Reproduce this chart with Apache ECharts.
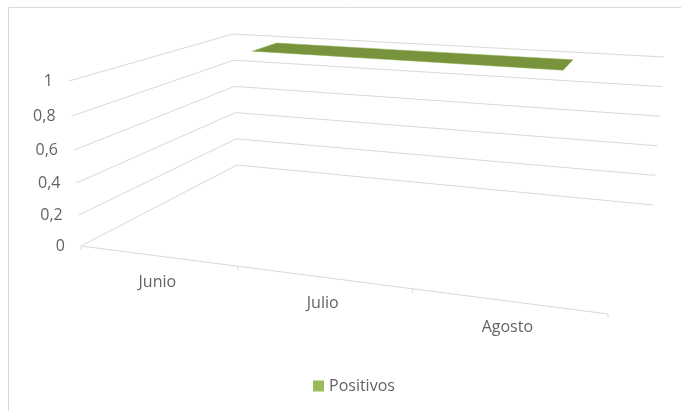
<!DOCTYPE html>
<html><head><meta charset="utf-8">
<style>html,body{margin:0;padding:0;background:#fff}#c{width:681px;height:411px}</style>
<script src="https://cdn.jsdelivr.net/npm/echarts@6/dist/echarts.min.js"></script>
</head><body><div id="c"></div>
<script>
var categories = ['Junio', 'Julio', 'Agosto'];
var positivos = [1, 1, 1];
var valueTicks = [0, 0.2, 0.4, 0.6, 0.8, 1];
var valueTickLabels = ['0', '0,2', '0,4', '0,6', '0,8', '1'];
var seriesName = 'Positivos';

// View of the 3-D box: screen corners of the floor and ceiling planes.
var floorQuad = [[81,246],[608,314],[653,205],[237,165]];
var ceilQuad  = [[69,81],[634,128],[664,57],[233,34]];
var ribbonDepth = [0.66, 0.85];
var G = {left: 100, top: 100, width: 300, height: 200};

function homography(q) {
  var sx=q[0][0]-q[1][0]+q[2][0]-q[3][0], sy=q[0][1]-q[1][1]+q[2][1]-q[3][1];
  var dx1=q[1][0]-q[2][0], dx2=q[3][0]-q[2][0], dy1=q[1][1]-q[2][1], dy2=q[3][1]-q[2][1];
  var det=dx1*dy2-dx2*dy1;
  var g=(sx*dy2-dx2*sy)/det, h=(dx1*sy-sx*dy1)/det;
  var a=q[1][0]-q[0][0]+g*q[1][0], b=q[3][0]-q[0][0]+h*q[3][0];
  var d=q[1][1]-q[0][1]+g*q[1][1], e=q[3][1]-q[0][1]+h*q[3][1];
  return function(u,t){ var w=g*u+h*t+1; return [(a*u+b*t+q[0][0])/w,(d*u+e*t+q[0][1])/w]; };
}
var hf=homography(floorQuad), hc=homography(ceilQuad);
// (px,py) is the pixel from the hidden cartesian axes; depth 0=front, 1=back
function project(p, depth){
  var u=(p[0]-G.left)/G.width, v=(G.top+G.height-p[1])/G.height;
  var r=1+0.08*(1-depth);            // vertical foreshortening, stronger at the front
  v=v/(v+(1-v)*r);
  var a=hf(u,depth), b=hc(u,depth);
  return [a[0]+(b[0]-a[0])*v, a[1]+(b[1]-a[1])*v];
}
var lineStyle={stroke:'#d9d9d9',lineWidth:1,fill:null};
var textColor='#636363', fontSpec='16px "Open Sans"';

var option={
  animation:false,
  backgroundColor:'#fff',
  grid:Object.assign({},G),
  xAxis:{type:'value',min:0,max:categories.length,show:false},
  yAxis:{type:'value',min:0,max:1,interval:0.2,show:false},
  legend:{data:[seriesName],left:308,top:373,itemWidth:11,itemHeight:11,itemGap:3,icon:'rect',
    textStyle:{color:textColor,fontFamily:'Open Sans',fontSize:16}},
  graphic:[
    {type:'line',shape:{x1:8.5,y1:7.5,x2:681,y2:7.5},style:{stroke:'#d9d9d9',lineWidth:1},silent:true},
    {type:'line',shape:{x1:8.5,y1:7.5,x2:8.5,y2:411},style:{stroke:'#d9d9d9',lineWidth:1},silent:true}
  ],
  series:[
    {type:'custom',name:'grid',coordinateSystem:'cartesian2d',silent:true,
     data:valueTicks.map(function(v,i){return [0,v,i];}),
     renderItem:function(params,api){
       var v=api.value(1), i=api.value(2), n=categories.length;
       var L=api.coord([0,v]), R=api.coord([n,v]);
       var a=project(L,0), b=project(L,1), c=project(R,1);
       var children=[
         {type:'polyline',shape:{points:[a,b,c]},style:lineStyle},
         {type:'text',style:{x:a[0]-16,y:a[1],text:valueTickLabels[i],textAlign:'right',textVerticalAlign:'middle',fill:textColor,font:fontSpec}}
       ];
       return {type:'group',children:children};
     }},
    {type:'custom',name:'floor',coordinateSystem:'cartesian2d',silent:true,
     data:categories.map(function(c,i){return [i,0,i];}).concat([[categories.length,0,-1]]),
     renderItem:function(params,api){
       var s=api.value(0), idx=api.value(2);
       var p=project(api.coord([s,0]),0);
       var ch=[{type:'line',shape:{x1:p[0],y1:p[1],x2:p[0],y2:p[1]+4},style:{stroke:'#d9d9d9',lineWidth:1}}];
       if(s<categories.length){
         var q=project(api.coord([s+1,0]),0);
         ch.push({type:'line',shape:{x1:p[0],y1:p[1],x2:q[0],y2:q[1]},style:{stroke:'#d9d9d9',lineWidth:1}});
         var m=project(api.coord([s+0.5,0]),0);
         ch.push({type:'text',style:{x:m[0],y:m[1]+26.5,text:categories[idx],textAlign:'center',textVerticalAlign:'middle',fill:textColor,font:fontSpec}});
       }
       return {type:'group',children:ch};
     }},
    {type:'custom',name:seriesName,coordinateSystem:'cartesian2d',
     itemStyle:{color:'#9BBB59'},
     data:positivos.map(function(v,i){return [i+0.5,v];}),
     renderItem:function(params,api){
       if(params.dataIndex!==0) return null;
       var front=[],back=[];
       for(var i=0;i<positivos.length;i++){
         var p=api.coord([i+0.5,positivos[i]]);
         front.push(project(p,ribbonDepth[0]));
         back.push(project(p,ribbonDepth[1]));
       }
       return {type:'polygon',shape:{points:front.concat(back.reverse())},
         style:{fill:'#77933C',stroke:'#8fae50',lineWidth:0.5}};
     }}
  ]
};
echarts.init(document.getElementById('c'),null,{renderer:'canvas'}).setOption(option);
</script></body></html>
